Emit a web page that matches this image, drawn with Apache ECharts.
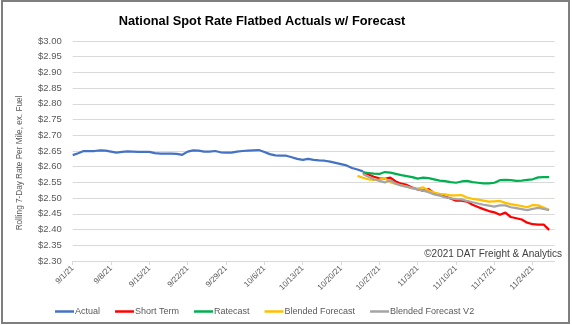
<!DOCTYPE html>
<html>
<head>
<meta charset="utf-8">
<script src="https://cdn.jsdelivr.net/npm/echarts@6/dist/echarts.min.js"></script>
<style>
html,body{margin:0;padding:0;background:#fff;}
#frame{position:absolute;left:1px;top:0px;width:565px;height:320px;border:2px solid #7f7f7f;}
#chart{position:absolute;left:0;top:0;width:572px;height:325px;}
</style>
</head>
<body>
<div id="frame"></div>
<div id="chart"></div>
<script>
// ---- Data ----
const startDate = '9/1/21';
const endDate = '11/28/21';
const yTicks = [2.30, 2.35, 2.40, 2.45, 2.50, 2.55, 2.60, 2.65, 2.70, 2.75, 2.80, 2.85, 2.90, 2.95, 3.00];

// Actual: daily from 9/1/21
const actual = [2.637,2.643,2.650,2.650,2.650,2.652,2.651,2.648,2.645,2.647,
  2.649,2.648,2.647,2.647,2.647,2.643,2.642,2.642,2.642,2.641,
  2.638,2.648,2.652,2.651,2.648,2.648,2.650,2.646,2.645,2.645,
  2.648,2.650,2.651,2.652,2.653,2.647,2.640,2.636,2.635,2.635,
  2.630,2.625,2.622,2.625,2.622,2.620,2.619,2.616,2.612,2.608,
  2.604,2.596,2.591,2.585];

// Forecasts: daily from 10/24/21 (Blended Forecast from 10/23/21)
const shortTermStart = '10/24/21';
const shortTerm = [2.582,2.575,2.568,2.563,2.561,2.565,2.553,2.546,2.542,2.534,
  2.528,2.524,2.529,2.516,2.510,2.505,2.499,2.492,2.492,2.489,
  2.479,2.472,2.465,2.459,2.455,2.447,2.454,2.440,2.436,2.432,
  2.422,2.417,2.416,2.416,2.399];
const ratecastStart = '10/24/21';
const ratecast = [2.582,2.580,2.578,2.577,2.583,2.581,2.577,2.573,2.570,2.567,
  2.562,2.565,2.564,2.560,2.556,2.554,2.551,2.549,2.553,2.555,
  2.551,2.549,2.547,2.547,2.549,2.557,2.558,2.557,2.555,2.556,
  2.558,2.560,2.566,2.567,2.567];
const blendedStart = '10/23/21';
const blended = [2.571,2.565,2.560,2.558,2.559,2.563,2.551,2.545,2.541,2.537,
  2.531,2.530,2.534,2.524,2.518,2.514,2.512,2.509,2.509,2.510,
  2.502,2.498,2.495,2.492,2.489,2.490,2.491,2.485,2.481,2.478,
  2.475,2.471,2.478,2.477,2.470,2.462];
const blendedV2Start = '10/24/21';
const blendedV2 = [2.577,2.568,2.560,2.555,2.550,2.557,2.546,2.540,2.536,2.532,
  2.528,2.524,2.519,2.512,2.508,2.503,2.499,2.497,2.496,2.491,
  2.487,2.483,2.479,2.476,2.473,2.477,2.477,2.471,2.468,2.465,
  2.462,2.466,2.469,2.466,2.462];

// ---- Build categories (dates) ----
function parseD(s){const p=s.split('/');return new Date(2000+ +p[2], +p[0]-1, +p[1]);}
function fmt(d){return (d.getMonth()+1)+'/'+d.getDate()+'/'+String(d.getFullYear()).slice(2);}
const categories=[];
for(let d=parseD(startDate); d<=parseD(endDate); d=new Date(d.getFullYear(),d.getMonth(),d.getDate()+1)){categories.push(fmt(d));}
function place(start, arr){
  const idx=categories.indexOf(start);
  const out=new Array(categories.length).fill(null);
  arr.forEach((v,i)=>{out[idx+i]=v;});
  return out;
}

const font = "'Liberation Sans', Arial, sans-serif";
const chart = echarts.init(document.getElementById('chart'), null, {renderer:'canvas'});
const mk = (name, data, color) => ({
  name, type:'line', data, showSymbol:false, symbol:'none', connectNulls:false,
  lineStyle:{color, width:2.25}, itemStyle:{color}, animation:false
});
chart.setOption({
  animation:false,
  title:{
    text:'National Spot Rate Flatbed Actuals w/ Forecast',
    left:257, textAlign:'center', top:10,
    textStyle:{fontFamily:font, fontWeight:'bold', fontSize:12.8, color:'#000'}
  },
  grid:{left:72.7, right:17.4, top:41, bottom:64, containLabel:false},
  xAxis:{
    type:'category', data:categories, boundaryGap:false,
    axisLine:{show:true, lineStyle:{color:'#d9d9d9', width:1}},
    axisTick:{show:true, interval:(i)=>i%7===0, length:4, lineStyle:{color:'#d9d9d9'}},
    axisLabel:{interval:(i)=>i%7===0, rotate:45, fontSize:8, color:'#595959', fontFamily:font, margin:6},
    splitLine:{show:false}
  },
  yAxis:{
    type:'value', min:yTicks[0], max:yTicks[yTicks.length-1], interval:0.05,
    axisLine:{show:false}, axisTick:{show:false},
    axisLabel:{formatter:(v)=>'$'+v.toFixed(2), fontSize:9.5, color:'#595959', fontFamily:font, margin:11},
    splitLine:{lineStyle:{color:'#d9d9d9', width:1}}
  },
  legend:{
    top:302, left:50, icon:'rect', itemWidth:19, itemHeight:2.5, itemGap:15,
    textStyle:{fontSize:9, color:'#595959', fontFamily:font, padding:[0,0,0,-4]},
    data:['Actual','Short Term','Ratecast','Blended Forecast','Blended Forecast V2']
  },
  graphic:[{
    type:'text', right:10, top:249,
    style:{text:'©2021 DAT Freight & Analytics', fontSize:10, fill:'#404040', fontFamily:font}
  },{
    type:'text', x:20, y:163, rotation:Math.PI/2,
    style:{text:'Rolling 7-Day Rate Per Mile, ex. Fuel', fontSize:8.2, fill:'#595959', fontFamily:font, align:'center', verticalAlign:'middle'}
  }],
  series:[
    mk('Actual', place(startDate, actual), '#4472C4'),
    mk('Short Term', place(shortTermStart, shortTerm), '#FF0000'),
    mk('Ratecast', place(ratecastStart, ratecast), '#00B050'),
    mk('Blended Forecast', place(blendedStart, blended), '#FFC000'),
    mk('Blended Forecast V2', place(blendedV2Start, blendedV2), '#A5A5A5')
  ]
});
</script>
</body>
</html>
